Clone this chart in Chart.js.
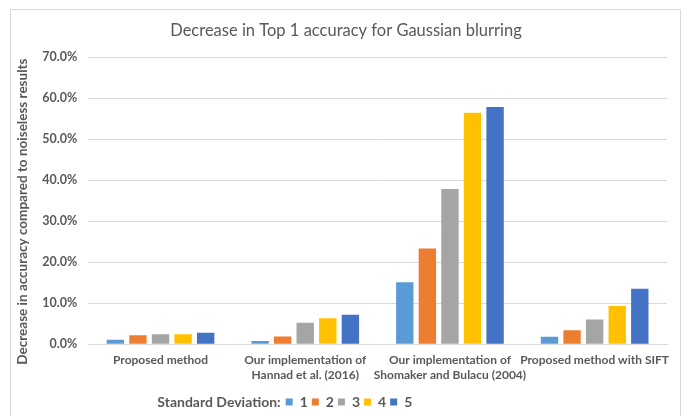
<!DOCTYPE html>
<html lang="en">
<head>
    <meta charset="UTF-8">
    <title>Decrease in Top 1 accuracy for Gaussian blurring</title>
    <style>
        html, body { margin: 0; padding: 0; background: #ffffff; }
        #wrap { position: relative; width: 694px; height: 416px; }
    </style>
</head>
<body>
    <div id="wrap">
        <canvas id="blurChart" width="694" height="416"></canvas>
    </div>

    <script src="https://cdn.jsdelivr.net/npm/chart.js"></script>
    <script>
        // categories (multi-line labels)
        const methods = [
            "Proposed method",
            ["Our implementation of", "Hannad et al. (2016)"],
            ["Our implementation of", "Shomaker and Bulacu (2004)"],
            "Proposed method with SIFT"
        ];

        // decrease in accuracy (%) per standard deviation
        const sd1 = [1.1, 0.8, 15.1, 1.8];
        const sd2 = [2.2, 1.9, 23.3, 3.4];
        const sd3 = [2.4, 5.2, 37.8, 6.0];
        const sd4 = [2.4, 6.3, 56.4, 9.3];
        const sd5 = [2.8, 7.2, 57.8, 13.5];

        const sdLabels = ["1", "2", "3", "4", "5"];
        const sdColors = ["#5B9BD5", "#ED7D31", "#A5A5A5", "#FFC000", "#4472C4"];

        const chartTitle = "Decrease in Top 1 accuracy for Gaussian blurring";
        const yTitle = "Decrease in accuracy compared to noiseless results";
        const legendCaption = "Standard Deviation:";

        const textGray = "#595959";
        const fontName = "Lato, 'Open Sans', sans-serif";

        // frame, title centred on the frame, y title sitting a bit low (as in Excel),
        // and the inline legend caption
        const framePlugin = {
            id: 'frame',
            afterLayout(chart) {
                // legend sits centred on the frame, not on the padded box
                chart.legend.left += 8;
                chart.legend.right += 8;
            },
            beforeDraw(chart) {
                const c = chart.ctx;
                c.save();
                c.strokeStyle = '#d9d9d9';
                c.lineWidth = 1;
                c.strokeRect(10.5, 9.5, 670, 420);
                c.font = "16.5px " + fontName;
                c.fillStyle = textGray;
                c.textAlign = 'center';
                c.textBaseline = 'middle';
                c.fillText(chartTitle, 346, 31);
                c.restore();
            },
            afterDraw(chart) {
                const c = chart.ctx;
                const y = chart.scales.y;
                c.save();
                c.font = "bold 13.5px " + fontName;
                c.fillStyle = textGray;
                c.textAlign = 'center';
                c.textBaseline = 'middle';
                c.translate(y.left + 8, (y.top + y.bottom) / 2 + 11);
                c.rotate(-Math.PI / 2);
                c.fillText(yTitle, 0, 0);
                c.restore();

                const boxes = chart.legend.legendHitBoxes;
                if (!boxes || !boxes.length) return;
                c.save();
                c.font = "bold 14px " + fontName;
                c.fillStyle = textGray;
                c.textAlign = 'right';
                c.textBaseline = 'middle';
                c.fillText(legendCaption, boxes[0].left - 5, boxes[0].top + boxes[0].height / 2);
                c.restore();
            }
        };

        const allSeries = [sd1, sd2, sd3, sd4, sd5];

        const ctx = document.getElementById('blurChart').getContext('2d');
        new Chart(ctx, {
            type: 'bar',
            data: {
                labels: methods,
                datasets: allSeries.map((vals, i) => ({
                    label: sdLabels[i],
                    data: vals,
                    backgroundColor: sdColors[i],
                    categoryPercentage: 0.78,
                    barPercentage: 0.77
                }))
            },
            options: {
                responsive: false,
                animation: false,
                layout: { padding: { left: 15, right: 27, top: 57, bottom: -3 } },
                plugins: {
                    title: { display: false },
                    legend: {
                        position: 'bottom',
                        labels: {
                            boxWidth: 7,
                            boxHeight: 7,
                            padding: 4,
                            color: textGray,
                            font: { family: fontName, size: 14, weight: 'bold' }
                        }
                    },
                    tooltip: { enabled: false }
                },
                scales: {
                    x: {
                        grid: { display: false, drawTicks: false },
                        border: { display: true, color: '#d9d9d9' },
                        ticks: {
                            color: textGray,
                            padding: 9,
                            autoSkip: false,
                            maxRotation: 0,
                            font: { family: fontName, size: 12, weight: 'bold' }
                        }
                    },
                    y: {
                        min: 0,
                        max: 70,
                        grid: { color: '#d9d9d9', drawTicks: false },
                        border: { display: false },
                        ticks: {
                            stepSize: 10,
                            padding: 11,
                            color: textGray,
                            font: { family: fontName, size: 12.5, weight: 'bold' },
                            callback: v => v.toFixed(1) + '%'
                        },
                        title: {
                            // keeps the room; the text itself is drawn by the plugin
                            display: true,
                            text: yTitle,
                            color: 'rgba(0,0,0,0)',
                            padding: { top: 0, bottom: 0 },
                            font: { family: fontName, size: 13.5, weight: 'bold' }
                        }
                    }
                }
            },
            plugins: [framePlugin]
        });
    </script>
</body>
</html>
